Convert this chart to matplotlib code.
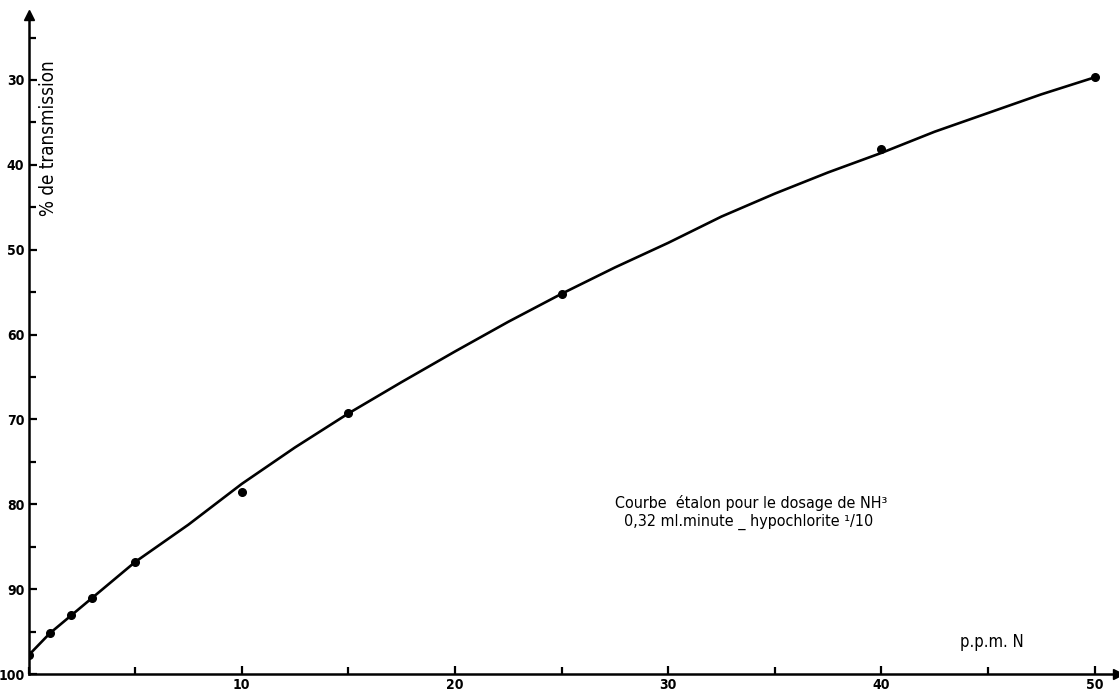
import matplotlib
matplotlib.use("Agg")
import matplotlib.pyplot as plt
from matplotlib.ticker import MultipleLocator

# Measured calibration points (ppm N, % transmission)
ppm_points = [0, 1, 2, 3, 5, 10, 15, 25, 40, 50]
transmission_points = [97.8, 95.2, 93.1, 91.0, 86.8, 78.5, 69.3, 55.2, 38.1, 29.7]

# Hand-drawn calibration curve traced through the points
curve_ppm = [0, 1, 2, 3, 5, 7.5, 10, 12.5, 15, 17.5, 20, 22.5, 25, 27.5,
             30, 32.5, 35, 37.5, 40, 42.5, 45, 47.5, 50]
curve_transmission = [97.8, 95.2, 93.1, 91.0, 86.8, 82.4, 77.6, 73.3, 69.3,
                      65.6, 62.0, 58.5, 55.2, 52.1, 49.2, 46.1, 43.4, 40.9,
                      38.6, 36.1, 33.9, 31.7, 29.7]

x_major = [10, 20, 30, 40, 50]
y_major = [30, 40, 50, 60, 70, 80, 90, 100]

title_lines = ["Courbe  étalon pour le dosage de NH³",
               "0,32 ml.minute _ hypochlorite ¹/10"]

FONT = dict(family="DejaVu Sans", stretch="condensed")

fig = plt.figure(figsize=(11.19, 6.92), dpi=100)
ax = fig.add_axes([0.0255, 0.026, 0.9736, 0.9523])

ax.plot(curve_ppm, curve_transmission, color="black", lw=1.9,
        solid_capstyle="round", solid_joinstyle="round")
ax.plot(ppm_points, transmission_points, "o", color="black", ms=5.5)

ax.set_xlim(0, 51.1)
ax.set_ylim(100, 22.35)

for s in ("top", "right"):
    ax.spines[s].set_visible(False)
for s in ("left", "bottom"):
    ax.spines[s].set_linewidth(1.8)

# arrow heads at the ends of the axes
ax.plot(1, 0, ">", color="black", ms=7, transform=ax.transAxes, clip_on=False)
ax.plot(0, 1, "^", color="black", ms=7, transform=ax.transAxes, clip_on=False)

ax.xaxis.set_minor_locator(MultipleLocator(5))
ax.yaxis.set_minor_locator(MultipleLocator(5))
ax.set_xticks(x_major)
ax.set_xticklabels([str(v) for v in x_major])
ax.set_yticks(y_major)
ax.set_yticklabels([str(v) for v in y_major])

ax.tick_params(which="both", direction="in", width=1.6, colors="black")
ax.tick_params(which="major", length=6, pad=3)
ax.tick_params(which="minor", length=5)
for lab in ax.get_xticklabels() + ax.get_yticklabels():
    lab.set_fontsize(10)
    lab.set_fontweight("bold")
    lab.set_fontstretch("condensed")

fig.text(0.0435, 0.8, "% de transmission", rotation=90, fontsize=13.5,
         ha="center", va="center", **FONT)

ax.text(43.67, 96.2, "p.p.m. N", fontsize=12, ha="left", va="center", **FONT)
ax.text(27.5, 79.8, title_lines[0], fontsize=11.5, ha="left", va="center", **FONT)
ax.text(27.95, 82.1, title_lines[1], fontsize=11.5, ha="left", va="center", **FONT)

fig.savefig("out.png", dpi=100)
